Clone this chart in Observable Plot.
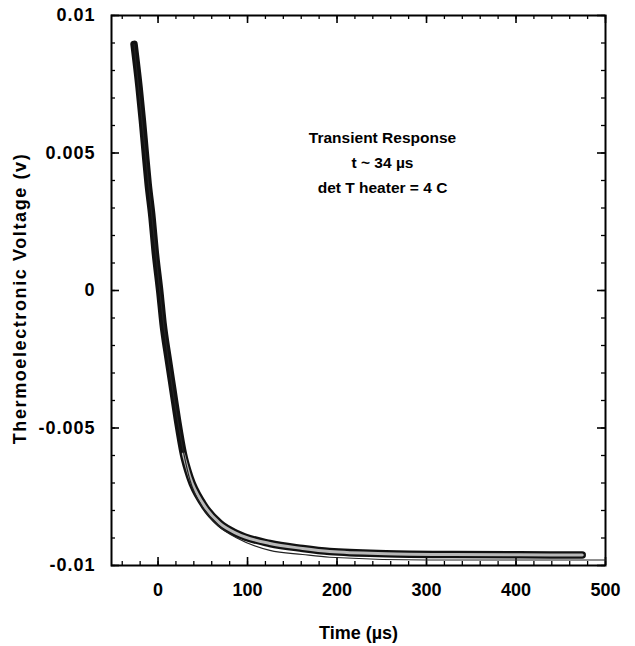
<!DOCTYPE html>
<html>
<head>
<meta charset="utf-8">
<script src="https://cdn.jsdelivr.net/npm/d3@7"></script>
<script src="https://cdn.jsdelivr.net/npm/@observablehq/plot@0.6"></script>
<style>
  html, body { margin: 0; padding: 0; background: #fff; }
</style>
</head>
<body>
<div id="chart"></div>
<script>
// Measured transient (time in µs, voltage in V)
const dataT = [-26.8, -21.2, -17.5, -14.5, -11.1, -6.7, -3.3, 2.2, 5.6, 11.1, 16.7, 21.8, 28.3, 35.7, 50.2, 69.1, 88.1, 124.9, 161.6, 191.8, 255, 329, 404, 474];
const dataV = [0.00895, 0.00739, 0.00618, 0.00509, 0.00389, 0.00265, 0.00145, -0.00011, -0.0012, -0.00244, -0.00364, -0.00473, -0.00594, -0.0068, -0.00775, -0.00847, -0.00884, -0.0092, -0.00938, -0.00949, -0.00957, -0.0096, -0.00961, -0.00962];

// Fitted exponential (thin line)
const fitT = [-26.8, -14.5, -6.7, 2.2, 11.1, 21.8, 35.7, 50.2, 69.1, 88.1, 124.9, 161.6, 191.8, 300, 400, 500];
const fitV = [0.00895, 0.00509, 0.00265, -0.00011, -0.00244, -0.0047, -0.0069, -0.0079, -0.0086, -0.009, -0.00945, -0.0096, -0.0097, -0.0098, -0.0098, -0.0098];

// Axes
const xTicks = [0, 100, 200, 300, 400, 500];
const xMinorTicks = d3.range(-40, 501, 20);
const yTicks = [-0.01, -0.005, 0, 0.005, 0.01];
const yMinorTicks = d3.range(-10, 11).map(i => i / 1000);

const xTitle = "Time (µs)";
const yTitle = "Thermoelectronic Voltage (v)";
const noteLines = ["Transient Response", "t ~ 34 µs", "det T heater = 4 C"];

const data = dataT.map((t, i) => ({t, v: dataV[i]}));
const fit = fitT.map((t, i) => ({t, v: fitV[i]}));

const W = 635, H = 646;
const mL = 111, mR = 30, mT = 15, mB = 81;
const plotW = W - mL - mR, plotH = H - mT - mB;
const font = "'Liberation Sans', Arial, Helvetica, sans-serif";

const chart = Plot.plot({
  width: W,
  height: H,
  marginLeft: mL,
  marginRight: mR,
  marginTop: mT,
  marginBottom: mB,
  style: {fontFamily: font, fontWeight: "bold", fontSize: "18px", background: "white", color: "black"},
  x: {domain: [-52, 500]},
  y: {domain: [-0.01, 0.01]},
  marks: [
    // inward ticks: bottom / top
    Plot.ruleX(xMinorTicks, {x: d => d, insetTop: plotH - 4, stroke: "black", strokeWidth: 1.3}),
    Plot.ruleX(xTicks, {x: d => d, insetTop: plotH - 8, stroke: "black", strokeWidth: 1.6}),
    Plot.ruleX(xMinorTicks, {x: d => d, insetBottom: plotH - 4, stroke: "black", strokeWidth: 1.3}),
    Plot.ruleX(xTicks, {x: d => d, insetBottom: plotH - 8, stroke: "black", strokeWidth: 1.6}),
    // inward ticks: left / right
    Plot.ruleY(yMinorTicks, {y: d => d, insetRight: plotW - 4, stroke: "black", strokeWidth: 1.3}),
    Plot.ruleY(yTicks, {y: d => d, insetRight: plotW - 8, stroke: "black", strokeWidth: 1.6}),
    Plot.ruleY(yMinorTicks, {y: d => d, insetLeft: plotW - 4, stroke: "black", strokeWidth: 1.3}),
    Plot.ruleY(yTicks, {y: d => d, insetLeft: plotW - 8, stroke: "black", strokeWidth: 1.6}),
    Plot.frame({stroke: "black", strokeWidth: 2}),
    // tick labels
    Plot.axisX(xTicks, {tickSize: 0, tickPadding: 18, label: null, fontSize: 18, fontWeight: "bold"}),
    Plot.axisY(yTicks, {tickSize: 0, tickPadding: 16, label: null, tickFormat: d => String(d), fontSize: 18, fontWeight: "bold"}),
    // measured data: thick dark band with light core
    Plot.line(data, {x: "t", y: "v", stroke: "#111", strokeWidth: 7.5, strokeLinecap: "round", strokeLinejoin: "round", curve: "monotone-x"}),
    Plot.line(data.filter(d => d.t > 25), {x: "t", y: "v", stroke: "#b8b8b8", strokeWidth: 3, strokeLinecap: "round", curve: "monotone-x"}),
    // fit
    Plot.line(fit, {x: "t", y: "v", stroke: "#222", strokeWidth: 1.2, curve: "monotone-x"}),
    // annotation
    Plot.text([noteLines.join("\n")], {frameAnchor: "top", dx: 24, dy: 110, lineAnchor: "top", textAnchor: "middle", lineHeight: 1.6, fontSize: 15.5, fontWeight: "bold", fill: "black"}),
    // axis titles
    Plot.text([xTitle], {frameAnchor: "bottom", dy: 68, lineAnchor: "middle", textAnchor: "middle", fontSize: 18, fontWeight: "bold", fill: "black"}),
    Plot.text([yTitle], {frameAnchor: "left", dx: -91, dy: 8, rotate: -90, lineAnchor: "middle", textAnchor: "middle", fontSize: 18, fontWeight: "bold", fill: "black"})
  ]
});
// widen the letter spacing of the y title and y tick labels like the scanned original
chart.querySelectorAll("text").forEach(el => {
  if (el.textContent === yTitle) el.style.letterSpacing = "1.6px";
});
chart.querySelectorAll("g[aria-label='y-axis tick label'] text").forEach(el => { el.style.letterSpacing = "1px"; });
document.getElementById("chart").appendChild(chart);
</script>
</body>
</html>
